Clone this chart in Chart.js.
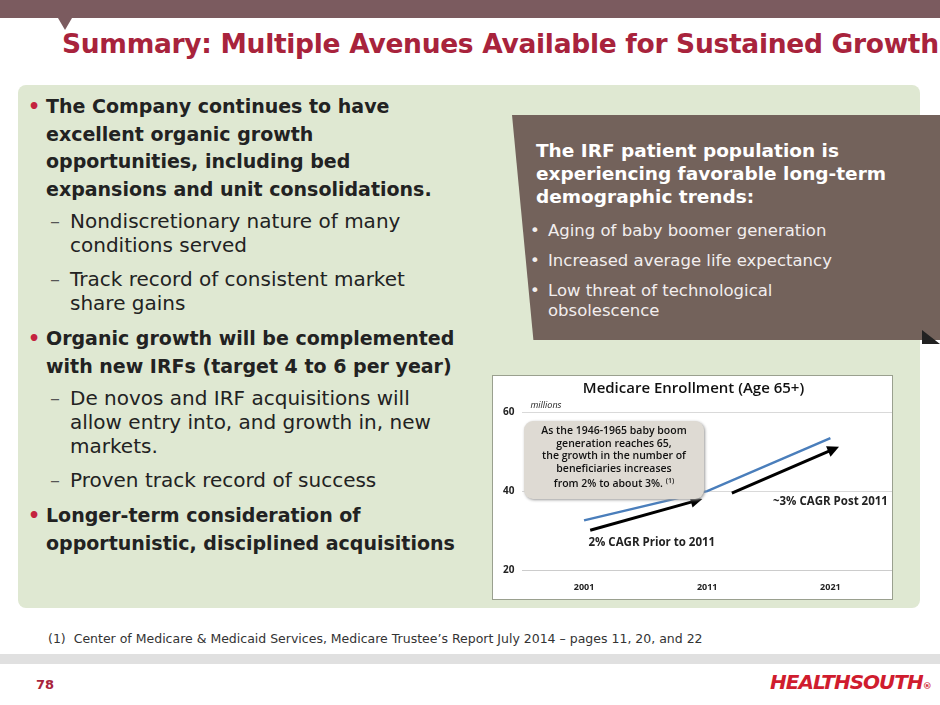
<!DOCTYPE html>
<html><head><meta charset="utf-8">
<script src="https://cdn.jsdelivr.net/npm/chart.js@4"></script>
<style>
body{margin:0;width:940px;height:705px;background:#fff;position:relative;overflow:hidden;font-family:"DejaVu Sans",sans-serif}
.topbar{position:absolute;left:0;top:0;width:940px;height:18px;background:#7b5b5f}
.notch{position:absolute;left:58px;top:18px;width:0;height:0;border-left:7px solid transparent;border-right:7px solid transparent;border-top:12px solid #7b5b5f}
h1{position:absolute;left:62px;top:28px;margin:0;font-size:26.5px;color:#a8233c;font-weight:bold;letter-spacing:-0.3px;white-space:nowrap}
.panel{position:absolute;left:18px;top:85px;width:902px;height:523px;background:#dfe8d2;border-radius:8px}
.left{position:absolute;left:28px;top:93px;width:440px;font-size:19px;line-height:27.5px;color:#222}
.left p{margin:0 0 6px 0}
.b{font-weight:bold;padding-left:18px;text-indent:-18px}
.b:before{content:"•";color:#c4233f;display:inline-block;width:18px;text-indent:0}
.d{padding-left:42px;text-indent:-20px;line-height:24px;margin-bottom:10px!important;font-size:20px;width:380px}
.d:before{content:"–";display:inline-block;width:20px;text-indent:0;color:#555}
.callout{position:absolute;left:512px;top:115px;width:428px;height:225px;background:#73625b;clip-path:polygon(0 0,100% 0,100% 100%,5% 100%,0 0)}
.callout .t{position:absolute;left:24px;top:24px;color:#fff;font-weight:bold;font-size:18.5px;line-height:23px}
.callout ul{position:absolute;left:18px;top:106px;width:330px;margin:0;padding:0;list-style:none;color:#f2eeee;font-size:16.5px;line-height:20px}
.callout li{margin-bottom:10px;padding-left:18px;text-indent:-18px}
.callout li:before{content:"•";display:inline-block;width:18px;text-indent:0}
.tri{position:absolute;left:922px;top:330px;width:0;height:0;border-top:14px solid transparent;border-left:18px solid #222}
.chartbox{position:absolute;left:492px;top:375px;width:399px;height:223px;background:#fff;border:1px solid #9aa08f}
.note{position:absolute;left:524px;top:421px;width:180px;height:75px;background:#dedad3;border-radius:9px;box-shadow:1px 1px 3px #999;font-family:"Open Sans",sans-serif;font-size:10.5px;line-height:12.5px;text-align:center;color:#111;padding-top:3px}
.foot{position:absolute;left:48px;top:631px;font-size:12.5px;color:#333}
.bline{position:absolute;left:0;top:654px;width:940px;height:10px;background:#e0e0e0}
.pg{position:absolute;left:36px;top:677px;font-size:13px;font-weight:bold;color:#a8233c}
.logo{position:absolute;left:770px;top:670px;font-family:"DejaVu Sans";font-weight:bold;font-style:italic;font-size:20px;color:#d01c2e;letter-spacing:-1px}
</style></head><body>
<div class="topbar"></div><div class="notch"></div>
<h1>Summary: Multiple Avenues Available for Sustained Growth</h1>
<div class="panel"></div>
<div class="left">
<p class="b">The Company continues to have excellent organic growth opportunities, including bed expansions and unit consolidations.</p>
<p class="d">Nondiscretionary nature of many conditions served</p>
<p class="d">Track record of consistent market share gains</p>
<p class="b">Organic growth will be complemented with new IRFs (target 4 to 6 per year)</p>
<p class="d">De novos and IRF acquisitions will allow entry into, and growth in, new markets.</p>
<p class="d">Proven track record of success</p>
<p class="b">Longer-term consideration of opportunistic, disciplined acquisitions</p>
</div>
<div class="callout"><div class="t">The IRF patient population is<br>experiencing favorable long-term<br>demographic trends:</div>
<ul><li>Aging of baby boomer generation</li><li>Increased average life expectancy</li><li>Low threat of technological obsolescence</li></ul></div>
<div class="tri"></div>
<div class="chartbox"><canvas id="c" width="399" height="223"></canvas></div>
<div class="note"><b style="font-weight:600">As the 1946-1965 baby boom<br>generation reaches 65,<br>the growth in the number of<br>beneficiaries increases<br>from 2% to about 3%. <sup style="font-size:7px">(1)</sup></b></div>
<div class="foot">(1)&nbsp; Center of Medicare &amp; Medicaid Services, Medicare Trustee’s Report July 2014 – pages 11, 20, and 22</div>
<div class="bline"></div>
<div class="pg">78</div>
<div class="logo">HEALTHSOUTH<span style="font-size:9px">®</span></div>
<script>
const years = ['2001', '2011', '2021'];
const enrollment = [32.6, 40, 53.4];
const yTicks = [20, 40, 60];
// arrows: [x index from, y from, x index to, y to]
const arrows = [[0.05, 30.1, 0.96, 38], [1.2, 39.5, 2.07, 51.2]];
const arrowLabels = [['2% CAGR Prior to 2011', 0.55, 26.2], ['~3% CAGR Post 2011', 2.0, 36.6]];

const extras = {
  id: 'extras',
  afterDatasetsDraw(chart) {
    const ctx = chart.ctx, xs = chart.scales.x, ys = chart.scales.y;
    const step = xs.getPixelForValue(1) - xs.getPixelForValue(0);
    const px = v => xs.getPixelForValue(0) + v * step;
    ctx.save();
    ctx.strokeStyle = '#000'; ctx.fillStyle = '#000'; ctx.lineWidth = 3;
    arrows.forEach(a => {
      const x1 = px(a[0]), y1 = ys.getPixelForValue(a[1]), x2 = px(a[2]), y2 = ys.getPixelForValue(a[3]);
      const ang = Math.atan2(y2 - y1, x2 - x1);
      ctx.beginPath(); ctx.moveTo(x1, y1);
      ctx.lineTo(x2 - 9 * Math.cos(ang), y2 - 9 * Math.sin(ang)); ctx.stroke();
      ctx.beginPath(); ctx.moveTo(x2, y2);
      ctx.lineTo(x2 - 13 * Math.cos(ang - 0.45), y2 - 13 * Math.sin(ang - 0.45));
      ctx.lineTo(x2 - 13 * Math.cos(ang + 0.45), y2 - 13 * Math.sin(ang + 0.45));
      ctx.closePath(); ctx.fill();
    });
    ctx.font = 'bold 11.5px "Open Sans"'; ctx.fillStyle = '#222'; ctx.textAlign = 'center';
    arrowLabels.forEach(l => ctx.fillText(l[0], px(l[1]), ys.getPixelForValue(l[2])));
    ctx.font = 'italic 9px "Open Sans"'; ctx.textAlign = 'left';
    ctx.fillText('millions', xs.left + 8, ys.top - 4);
    ctx.restore();
  }
};

new Chart(document.getElementById('c'), {
  type: 'line',
  data: { labels: years, datasets: [{ data: enrollment, borderColor: '#4a7ebb', borderWidth: 2.5, pointRadius: 0, tension: 0 }] },
  options: {
    responsive: false, animation: false,
    layout: { padding: { left: 2, right: 0, top: 0, bottom: 2 } },
    plugins: {
      legend: { display: false }, tooltip: { enabled: false },
      title: { display: true, text: 'Medicare Enrollment (Age 65+)', color: '#111', font: { family: 'Open Sans', size: 15, weight: '600' }, padding: { top: 4, bottom: 14 } }
    },
    scales: {
      x: { offset: true, grid: { display: false, drawTicks: true }, border: { color: '#ccc' },
           ticks: { color: '#222', font: { family: 'Open Sans', size: 9, weight: 'bold' }, padding: 4 } },
      y: { min: 20, max: 60, afterBuildTicks: s => { s.ticks = yTicks.map(v => ({ value: v })); },
           grid: { color: '#d9d9d9', drawTicks: false }, border: { display: false },
           ticks: { color: '#222', font: { family: 'Open Sans', size: 10, weight: 'bold' }, padding: 8 } }
    }
  },
  plugins: [extras]
});
</script>
</body></html>
